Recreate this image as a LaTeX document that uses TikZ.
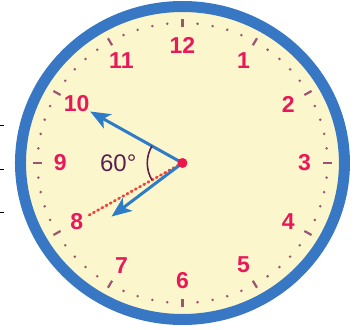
\documentclass[tikz,border=0pt]{standalone}
\usepackage{fontspec}
\setmainfont{Liberation Sans}
\usepackage{tikz}
\usetikzlibrary{arrows.meta}
\definecolor{AzulAro}{RGB}{56,119,195}
\definecolor{CremaEsfera}{RGB}{252,246,204}
\definecolor{RojoNumero}{RGB}{232,24,90}
\definecolor{AzulAguja}{RGB}{46,123,200}
\definecolor{RojoPunto}{RGB}{234,24,72}
\definecolor{RojoLinea}{RGB}{240,68,58}
\definecolor{MalvaMarca}{RGB}{154,85,112}
\definecolor{MoradoAngulo}{RGB}{90,33,80}
\tikzset{
  numero/.style={text=RojoNumero,font=\fontsize{23}{23}\selectfont\bfseries,inner sep=0pt},
  aguja/.style={->,line width=3pt,AzulAguja},
  punto/.style={circle,fill=RojoPunto,inner sep=0pt,minimum size=10pt}
}

\begin{document}
\begin{tikzpicture}[>={Stealth[length=20pt,width=16pt,inset=5pt]},x=1.035pt,y=1pt]
  \useasboundingbox (-176.3,-167) rectangle (166.7,163);
  % marcas sueltas a la izquierda
  \foreach \y in {38,-6,-49}
    \draw[line width=0.8pt] (-176.3,\y)--(-172.4,\y);
  % esfera y aro
  \draw[line width=11pt,AzulAro,fill=CremaEsfera] (0,0) circle (156.5);
  % marcas de minutos y horas
  \foreach \a in {0,6,...,354}{
    \pgfmathtruncatemacro{\r}{mod(\a,30)}
    \ifnum\r=0
      \draw[line width=2.2pt,MalvaMarca] (\a:136)--(\a:144);
    \else
      \fill[MalvaMarca] (\a:140) circle (1.4pt);
    \fi
  }
  % numeros
  \foreach \h in {1,...,12}
    \node[numero] (h\h) at ({90-30*\h}:118) {\h};
  % agujas
  \coordinate (o) at (0,0);
  \coordinate (p10) at (150:103);
  \coordinate (p8) at (218:87);
  \coordinate (q8) at (210:104);
  \draw[RojoLinea,line width=2.8pt,line cap=round,dash pattern=on 1.2pt off 3.6pt] (o)--(q8);
  \draw[aguja] (o)--(p10);
  \draw[aguja] (o)--(p8);
  \draw[line width=1.6pt,MoradoAngulo] (150:34) arc[start angle=150,end angle=210,radius=34];
  \node[text=MoradoAngulo,font=\fontsize{24}{24}\selectfont] (ang) at (-62,0) {60°};
  \node[punto] (centro) at (o) {};
\end{tikzpicture}
\end{document}
